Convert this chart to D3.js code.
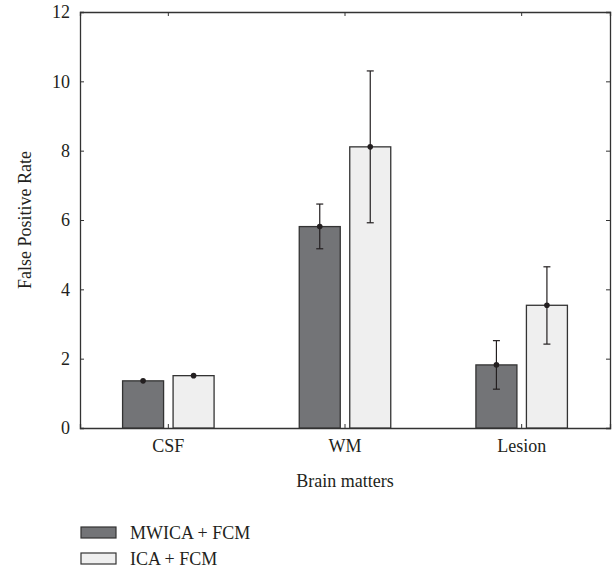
<!DOCTYPE html>
<html>
<head>
<meta charset="utf-8">
<script src="https://cdn.jsdelivr.net/npm/d3@7"></script>
<style>
  body { margin: 0; background: #fff; }
</style>
</head>
<body>
<svg id="chart"></svg>
<script>
// data
const categories = ["CSF", "WM", "Lesion"];
const seriesNames = ["MWICA + FCM", "ICA + FCM"];
const seriesColors = ["#737477", "#efefef"];
const meanValues = [
  [1.36, 5.81, 1.82],
  [1.51, 8.11, 3.54],
];
const errLow = [
  [1.36, 5.17, 1.12],
  [1.51, 5.92, 2.42],
];
const errHigh = [
  [1.36, 6.46, 2.52],
  [1.51, 10.3, 4.65],
];
const yTicks = [0, 2, 4, 6, 8, 10, 12];

const FONT = "'Liberation Serif', 'DejaVu Serif', 'Times New Roman', Times, serif";
const TEXT_COLOR = "#231f20";
const FONT_SIZE = "18px";

const config = {
  width: 616,
  height: 572,
  margin: { top: 12, right: 6, bottom: 144, left: 80 },
};

const svg = d3.select("#chart")
  .attr("width", config.width)
  .attr("height", config.height);

const innerW = config.width - config.margin.left - config.margin.right;
const innerH = config.height - config.margin.top - config.margin.bottom;

const chart = svg.append("g")
  .attr("transform", `translate(${config.margin.left},${config.margin.top})`);

const x = d3.scaleBand().domain(categories).range([0, innerW]).padding(0);
const y = d3.scaleLinear().domain([0, 12]).range([innerH, 0]);

const barW = 41;
const gap = 9.5;
const offsetFor = (s) => s === 0 ? -gap / 2 - barW : gap / 2;

// frame + axes, ticks point inwards on all four sides
const yAxisL = d3.axisLeft(y).tickValues(yTicks).tickSize(-4).tickPadding(10);
const yAxisR = d3.axisRight(y).tickValues(yTicks).tickSize(-4).tickFormat("");
const xAxisB = d3.axisBottom(x).tickSize(-4).tickPadding(11);
const xAxisT = d3.axisTop(x).tickSize(-4).tickFormat("");

function styleAxis(g) {
  g.attr("font-family", FONT);
  g.select(".domain").attr("stroke", "#333").attr("stroke-width", 1.3);
  g.selectAll(".tick line").attr("stroke", "#333").attr("stroke-width", 1);
  g.selectAll(".tick text")
    .style("font-family", FONT)
    .style("font-size", FONT_SIZE)
    .attr("fill", TEXT_COLOR);
}

chart.append("g").call(yAxisL).call(styleAxis);
chart.append("g").attr("transform", `translate(${innerW},0)`).call(yAxisR).call(styleAxis);
chart.append("g").attr("transform", `translate(0,${innerH})`).call(xAxisB).call(styleAxis);
chart.append("g").call(xAxisT).call(styleAxis);

// no tick marks on the 0 and 12 lines (they sit on the frame)
chart.selectAll(".tick").filter((d) => d === 0 || d === 12).select("line").remove();

// bars
const rows = [];
seriesNames.forEach((name, s) => {
  categories.forEach((c, i) => {
    rows.push({ s, c, v: meanValues[s][i], lo: errLow[s][i], hi: errHigh[s][i] });
  });
});

chart.append("g")
  .selectAll("rect")
  .data(rows)
  .join("rect")
  .attr("x", (d) => x(d.c) + x.bandwidth() / 2 + offsetFor(d.s))
  .attr("y", (d) => y(d.v))
  .attr("width", barW)
  .attr("height", (d) => y(0) - y(d.v))
  .attr("fill", (d) => seriesColors[d.s])
  .attr("stroke", "#333")
  .attr("stroke-width", 1.3);

// error bars
const cx = (d) => x(d.c) + x.bandwidth() / 2 + offsetFor(d.s) + barW / 2;
const errs = chart.append("g").selectAll("g")
  .data(rows.filter((d) => d.hi > d.lo))
  .join("g")
  .attr("stroke", TEXT_COLOR)
  .attr("stroke-width", 1.2);

errs.append("line")
  .attr("x1", cx).attr("x2", cx)
  .attr("y1", (d) => y(d.lo)).attr("y2", (d) => y(d.hi));
errs.append("line")
  .attr("x1", (d) => cx(d) - 3.5).attr("x2", (d) => cx(d) + 3.5)
  .attr("y1", (d) => y(d.hi)).attr("y2", (d) => y(d.hi));
errs.append("line")
  .attr("x1", (d) => cx(d) - 3.5).attr("x2", (d) => cx(d) + 3.5)
  .attr("y1", (d) => y(d.lo)).attr("y2", (d) => y(d.lo));

chart.append("g").selectAll("circle")
  .data(rows)
  .join("circle")
  .attr("cx", cx)
  .attr("cy", (d) => y(d.v))
  .attr("r", 2.8)
  .attr("fill", TEXT_COLOR);

// axis titles
svg.append("text")
  .attr("x", config.margin.left + innerW / 2)
  .attr("y", 487)
  .attr("text-anchor", "middle")
  .style("font-family", FONT)
  .style("font-size", FONT_SIZE)
  .attr("fill", TEXT_COLOR)
  .text("Brain matters");

svg.append("text")
  .attr("transform", `translate(31,${config.margin.top + innerH / 2}) rotate(-90)`)
  .attr("text-anchor", "middle")
  .style("font-family", FONT)
  .style("font-size", FONT_SIZE)
  .attr("fill", TEXT_COLOR)
  .text("False Positive Rate");

// legend
const legend = svg.append("g").attr("transform", "translate(81,527)");
const items = legend.selectAll("g")
  .data(seriesNames)
  .join("g")
  .attr("transform", (d, i) => `translate(0,${i * 26})`);
items.append("rect")
  .attr("width", 35)
  .attr("height", 11)
  .attr("fill", (d, i) => seriesColors[i])
  .attr("stroke", "#333")
  .attr("stroke-width", 1.2);
items.append("text")
  .attr("x", 49)
  .attr("y", 12)
  .style("font-family", FONT)
  .style("font-size", FONT_SIZE)
  .attr("fill", TEXT_COLOR)
  .text((d) => d);
</script>
</body>
</html>
